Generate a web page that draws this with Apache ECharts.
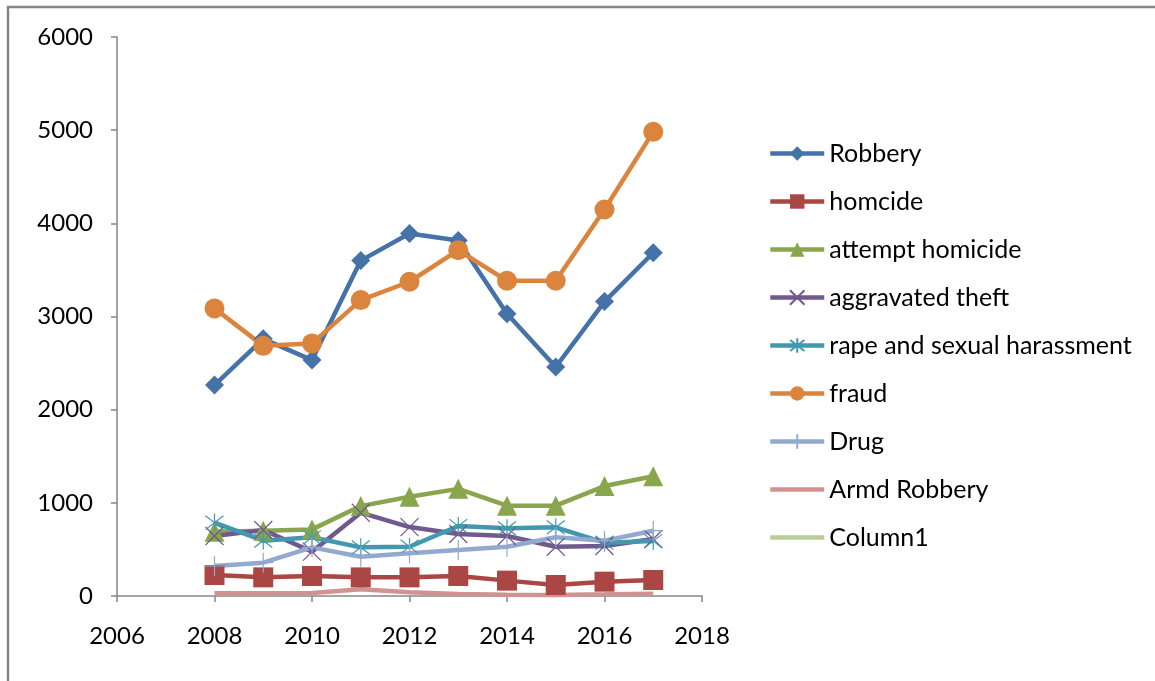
<!DOCTYPE html>
<html>
<head>
<meta charset="utf-8">
<script src="https://cdn.jsdelivr.net/npm/echarts@6/dist/echarts.min.js"></script>
<style>
html,body{margin:0;padding:0;background:#fff;}
#c{width:1155px;height:681px;}
</style>
</head>
<body>
<div id="c"></div>
<script>
var years = [2008, 2009, 2010, 2011, 2012, 2013, 2014, 2015, 2016, 2017];
var robbery = [2264, 2760, 2532, 3600, 3890, 3815, 3030, 2458, 3160, 3684];
var homicide = [225, 200, 215, 200, 200, 215, 165, 118, 154, 172];
var attemptHomicide = [690, 700, 715, 965, 1065, 1150, 970, 970, 1180, 1285];
var aggravatedTheft = [644, 708, 476, 894, 740, 665, 644, 529, 537, 612];
var rapeHarassment = [787, 594, 630, 522, 529, 751, 726, 737, 572, 590];
var fraud = [3087, 2685, 2711, 3176, 3373, 3712, 3384, 3384, 4149, 4982];
var drug = [322, 358, 522, 422, 458, 494, 529, 630, 594, 701];
var armdRobbery = [29, 30, 32, 72, 39, 21, 14, 12, 18, 25];
var column1 = [];
var yTicks = [0, 1000, 2000, 3000, 4000, 5000, 6000];
var xTicks = [2006, 2008, 2010, 2012, 2014, 2016, 2018];

function pairs(v){ return v.map(function(d,i){ return [years[i], d]; }); }

var FONT = 'Lato';
var xPath = 'path://M0,0L10,10M10,0L0,10';
var starPath = 'path://M0,0L10,10M10,0L0,10M5,-1.5L5,11.5';
var plusPath = 'path://M5,0L5,10M0,5L10,5';

function mk(name, data, color, symbol, size, strokeSym) {
  return {
    name: name, type: 'line', data: pairs(data),
    symbol: symbol, symbolSize: size,
    showSymbol: symbol !== 'none',
    lineStyle: {color: color, width: 4.5},
    itemStyle: strokeSym ? {color: 'rgba(0,0,0,0)', borderColor: color, borderWidth: 1.2} : {color: color},
    emphasis: {disabled: true},
    animation: false
  };
}

var series = [
  mk('Robbery', robbery, '#4572A7', 'diamond', 19),
  mk('homcide', homicide, '#AA4643', 'rect', 20),
  mk('attempt homicide', attemptHomicide, '#89A54E', 'triangle', 20),
  mk('aggravated theft', aggravatedTheft, '#71588F', xPath, 18, true),
  mk('rape and sexual harassment', rapeHarassment, '#4198AF', starPath, 18, true),
  mk('fraud', fraud, '#DB843D', 'circle', 20),
  mk('Drug', drug, '#93A9CF', plusPath, 20, true),
  mk('Armd Robbery', armdRobbery, '#D19392', 'none', 0),
  mk('Column1', column1, '#B9CD96', 'none', 0)
];
series[7].z = 1;

var legendData = series.map(function(s){
  if (s.symbol === 'none') return {name: s.name, itemStyle: {opacity: 0}};
  return {name: s.name};
});

var chart = echarts.init(document.getElementById('c'), null, {renderer: 'canvas'});
chart.setOption({
  backgroundColor: '#fff',
  textStyle: {fontFamily: FONT},
  graphic: [{
    type: 'rect', shape: {x: 8, y: 7, width: 1200, height: 720},
    style: {fill: 'none', stroke: '#868686', lineWidth: 2.5}, z: -1, silent: true
  }],
  grid: {left: 117, right: 453, top: 37, bottom: 85, containLabel: false},
  xAxis: {
    type: 'value', min: xTicks[0], max: xTicks[xTicks.length-1], interval: 2,
    axisLine: {show: true, lineStyle: {color: '#868686', width: 1.5}},
    axisTick: {show: true, inside: false, length: 6, lineStyle: {color: '#868686', width: 1.5}},
    splitLine: {show: false},
    axisLabel: {color: '#000', fontSize: 24, fontFamily: FONT, margin: 28,
      formatter: function(v){ return String(v); }}
  },
  yAxis: {
    type: 'value', min: yTicks[0], max: yTicks[yTicks.length-1], interval: 1000,
    axisLine: {show: true, lineStyle: {color: '#868686', width: 1.5}},
    axisTick: {show: true, inside: false, length: 6, lineStyle: {color: '#868686', width: 1.5}},
    splitLine: {show: false},
    axisLabel: {color: '#000', fontSize: 24, fontFamily: FONT, margin: 24,
      formatter: function(v){ return String(v); }}
  },
  legend: {
    orient: 'vertical', left: 763, top: 136,
    itemWidth: 54, itemHeight: 18, itemGap: 23,
    lineStyle: {width: 4.5},
    textStyle: {fontSize: 25, fontFamily: FONT, color: '#000', lineHeight: 20},
    data: legendData
  },
  series: series
});
</script>
</body>
</html>
